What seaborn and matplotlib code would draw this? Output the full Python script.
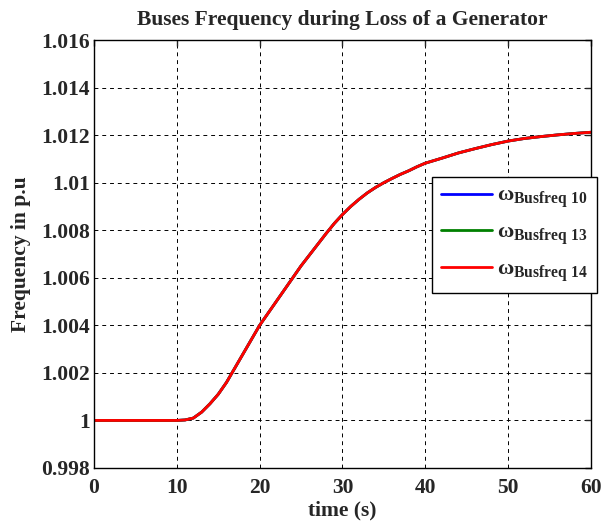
import numpy as np
import pandas as pd
import matplotlib
matplotlib.use("Agg")
import matplotlib.pyplot as plt
import seaborn as sns

# Values
time_s = [0, 5, 10, 11, 12, 13, 14, 15, 16, 17, 18, 19, 20, 21, 22, 23, 24, 25, 26, 27,
          28, 29, 30, 31, 32, 33, 34, 35, 36, 37, 38, 39, 40, 42, 44, 46, 48, 50, 52,
          54, 56, 58, 60]
freq_bus10 = [1.0, 1.0, 1.0, 1.00002, 1.0001, 1.00035, 1.0007, 1.0011, 1.0016, 1.0022,
              1.0028, 1.0034, 1.0040, 1.0045, 1.0050, 1.0055, 1.0060, 1.0065, 1.00695,
              1.0074, 1.00785, 1.00828, 1.00866, 1.00900, 1.00930, 1.00957, 1.00980,
              1.01000, 1.01018, 1.01035, 1.0105, 1.01067, 1.01082, 1.01103, 1.01125,
              1.01143, 1.0116, 1.01175, 1.01186, 1.01194, 1.01201, 1.01207, 1.01212]
freq_bus13 = list(freq_bus10)
freq_bus14 = list(freq_bus10)

labels = [r"$\omega_{\mathbf{Busfreq\ 10}}$",
          r"$\omega_{\mathbf{Busfreq\ 13}}$",
          r"$\omega_{\mathbf{Busfreq\ 14}}$"]
colors = ["#0000ff", "#008000", "#ff0000"]

df = pd.concat([
    pd.DataFrame({"time": time_s, "freq": f, "bus": lab})
    for f, lab in zip([freq_bus10, freq_bus13, freq_bus14], labels)
])

sns.set_style("white")
plt.rcParams["font.family"] = ["Liberation Serif", "DejaVu Serif"]
plt.rcParams["font.weight"] = "bold"
plt.rcParams["mathtext.fontset"] = "custom"
plt.rcParams["mathtext.rm"] = "Liberation Serif:bold"
plt.rcParams["mathtext.it"] = "Liberation Serif:bold"
plt.rcParams["mathtext.bf"] = "Liberation Serif:bold"

fig = plt.figure(figsize=(6.11, 5.25), dpi=100)
ax = fig.add_axes([0.1538, 0.1086, 0.8134, 0.8152])

sns.lineplot(data=df, x="time", y="freq", hue="bus", palette=colors,
             linewidth=2, ax=ax, legend=True)

ax.set_xlim(0, 60)
ax.set_ylim(0.998, 1.016)
ax.set_xticks(np.arange(0, 61, 10))
ax.set_yticks(np.arange(0.998, 1.0161, 0.002))
ax.set_yticklabels(["0.998", "1", "1.002", "1.004", "1.006", "1.008", "1.01",
                    "1.012", "1.014", "1.016"])
ax.tick_params(direction="in", length=4, labelsize=15.5, width=1, top=True, right=True,
               pad=3)
ax.tick_params(axis="x", pad=7)
for lab in ax.get_xticklabels() + ax.get_yticklabels():
    lab.set_fontweight("bold")
ax.grid(True, color="black", linestyle=(0, (4, 4)), linewidth=0.7)
for s in ax.spines.values():
    s.set_color("black")
    s.set_linewidth(1)

ax.set_title("Buses Frequency during Loss of a Generator", fontsize=15.5,
             fontweight="bold", pad=11)
ax.set_xlabel("time (s)", fontsize=15.5, fontweight="bold", labelpad=2)
ax.set_ylabel("Frequency in p.u", fontsize=15.5, fontweight="bold", labelpad=7)

leg = ax.legend(loc="upper left", bbox_to_anchor=(0.68, 0.68), borderaxespad=0,
                fancybox=False, edgecolor="black", framealpha=1, fontsize=16,
                handlelength=2.3, handletextpad=0.25, labelspacing=0.55,
                borderpad=0.4, title=None)
leg.get_frame().set_linewidth(1)

fig.savefig("out.png", dpi=100)
